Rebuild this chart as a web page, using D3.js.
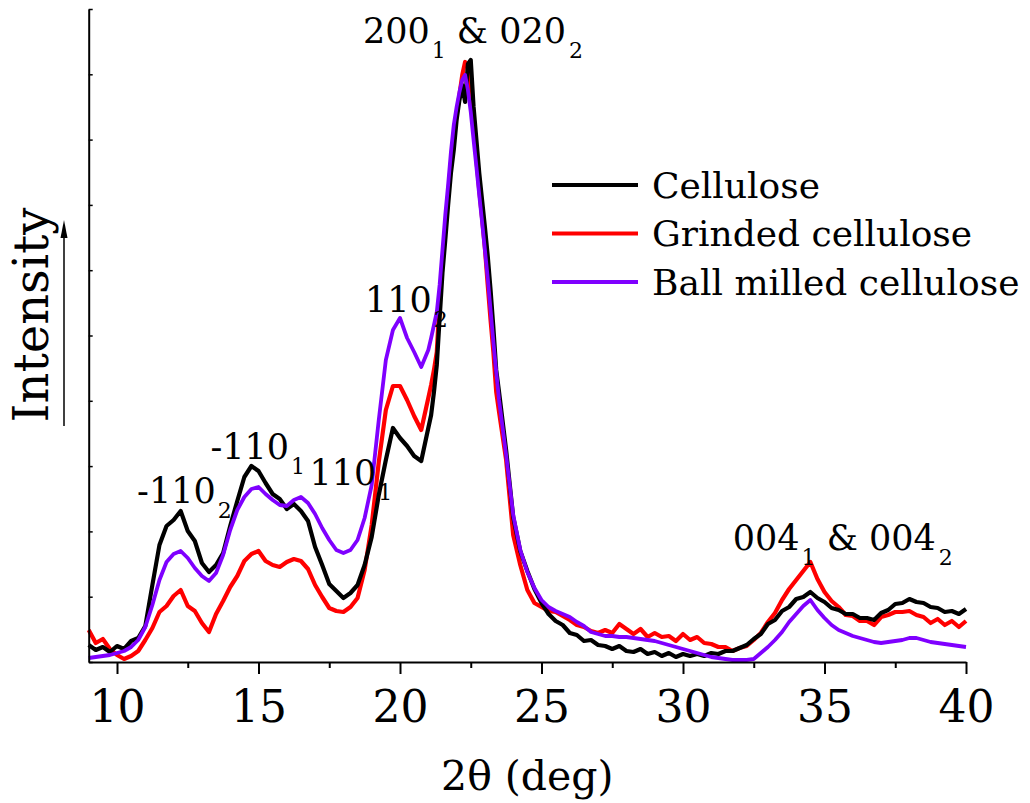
<!DOCTYPE html>
<html>
<head>
<meta charset="utf-8">
<script src="https://cdn.jsdelivr.net/npm/d3@7"></script>
<style>
  body { margin: 0; background: #fff; }
  text { font-family: "DejaVu Serif", serif; fill: #000; }
</style>
</head>
<body>
<div id="chart"></div>
<script>
// 2theta positions (deg), finer steps around the main 200/020 peak
const twoTheta = [
  9, 9.25, 9.5, 9.75, 10, 10.25, 10.5, 10.75, 11, 11.25, 11.5, 11.75,
  12, 12.25, 12.5, 12.75, 13, 13.25, 13.5, 13.75, 14, 14.25, 14.5, 14.75,
  15, 15.25, 15.5, 15.75, 16, 16.25, 16.5, 16.75, 17, 17.25, 17.5, 17.75,
  18, 18.25, 18.5, 18.75, 19, 19.25, 19.5, 19.75, 20, 20.25, 20.5, 20.75,
  21, 21.1, 21.2, 21.3, 21.4, 21.5, 21.6, 21.7, 21.8, 21.9,
  22, 22.1, 22.2, 22.3, 22.4, 22.5, 22.6, 22.7, 22.8, 22.9,
  23, 23.1, 23.2, 23.3, 23.4, 23.5,
  23.75, 24, 24.25, 24.5, 24.75, 25, 25.25, 25.5, 25.75, 26, 26.25, 26.5, 26.75,
  27, 27.25, 27.5, 27.75, 28, 28.25, 28.5, 28.75, 29, 29.25, 29.5, 29.75,
  30, 30.25, 30.5, 30.75, 31, 31.25, 31.5, 31.75, 32, 32.25, 32.5, 32.75,
  33, 33.25, 33.5, 33.75, 34, 34.25, 34.5, 34.75, 35, 35.25, 35.5, 35.75,
  36, 36.25, 36.5, 36.75, 37, 37.25, 37.5, 37.75, 38, 38.25, 38.5, 38.75,
  39, 39.25, 39.5, 39.75, 40
];

// intensities (a.u.)
const cellulose = [
  17, 12, 15, 10, 16, 13, 21, 24, 36, 77, 117, 136,
  142, 151, 131, 121, 99, 90, 97, 109, 136, 161, 185, 196,
  191, 179, 168, 163, 153, 158, 151, 141, 115, 97, 78, 71,
  64, 69, 77, 97, 125, 167, 202, 234, 224, 216, 206, 201,
  234, 247, 270, 297, 344, 389, 422, 457, 489, 512,
  542, 562, 577, 560, 598, 602, 555, 522, 489, 462,
  435, 406, 372, 334, 292, 270,
  212, 145, 111, 91, 73, 59, 48, 41, 37, 29, 27, 21, 22,
  17, 16, 13, 16, 11, 10, 13, 8, 10, 6, 9, 5,
  8, 6, 8, 6, 9, 8, 11, 11, 14, 17, 23, 28,
  38, 42, 51, 55, 63, 65, 70, 64, 60, 54, 52, 48,
  48, 44, 44, 42, 49, 52, 58, 59, 63, 60, 59, 55,
  54, 50, 51, 48, 53
];

const grinded = [
  32, 19, 23, 13, 7, 3, 6, 11, 22, 34, 50, 56,
  66, 72, 56, 51, 39, 30, 48, 61, 75, 86, 101, 108,
  111, 101, 97, 95, 100, 103, 101, 93, 77, 65, 54, 51,
  50, 55, 64, 92, 137, 200, 252, 276, 276, 262, 246, 232,
  264, 277, 292, 310, 362, 400, 432, 467, 499, 522,
  547, 567, 587, 600, 596, 567, 542, 502, 472, 444,
  414, 377, 342, 310, 270, 250,
  202, 127, 97, 72, 59, 55, 51, 50, 46, 42, 37, 35, 31,
  29, 32, 29, 38, 33, 28, 33, 25, 29, 25, 26, 21,
  28, 22, 25, 19, 18, 15, 15, 11, 14, 16, 22, 29,
  40, 49, 62, 73, 82, 91, 100, 83, 70, 61, 55, 47,
  46, 41, 41, 37, 45, 47, 50, 50, 51, 47, 45, 39,
  43, 37, 41, 35, 41
];

const ballMilled = [
  4, 5, 6, 7, 9, 11, 15, 22, 35, 57, 82, 100,
  108, 111, 104, 94, 86, 81, 89, 107, 132, 152, 165, 173,
  175, 168, 162, 157, 156, 162, 165, 159, 148, 134, 122, 112,
  109, 112, 122, 144, 177, 242, 302, 332, 344, 324, 310, 295,
  312, 324, 337, 350, 377, 412, 447, 477, 510, 537,
  555, 570, 582, 587, 572, 550, 522, 495, 467, 440,
  412, 384, 352, 320, 290, 262,
  207, 147, 112, 90, 74, 62, 55, 51, 48, 45, 40, 36, 30,
  28, 26, 26, 25, 25, 24, 23, 22, 21, 19, 17, 15,
  13, 11, 9, 7, 5, 4, 3, 2, 2, 2, 3, 9,
  15, 22, 30, 40, 48, 56, 62, 52, 44, 37, 32, 29,
  26, 24, 22, 20, 19, 20, 21, 22, 24, 24, 22, 20,
  19, 18, 17, 16, 15
];

const seriesNames = ["Cellulose", "Grinded cellulose", "Ball milled cellulose"];
const seriesColors = ["#000000", "#ff0000", "#7f00ff"];
const xMajorTicks = [10, 15, 20, 25, 30, 35, 40];
const xMinorTicks = [12.5, 17.5, 22.5, 27.5, 32.5, 37.5];

// reflection labels: main index, subscript, optional second part
const peakLabels = [
  { main: "-110", sub: "2", deg: 10.71, level: 159 },
  { main: "-110", sub: "1", deg: 13.30, level: 203 },
  { main: "110", sub: "1", deg: 16.80, level: 177 },
  { main: "110", sub: "2", deg: 18.76, level: 350 },
  { main: "200", sub: "1", main2: "\u00a0& 020", sub2: "2", deg: 18.69, level: 619 },
  { main: "004", sub: "1", main2: "\u00a0& 004", sub2: "2", deg: 31.76, level: 112 }
];

const W = 1030, H = 803;
const plot = { left: 88.7, right: 966, top: 9, bottom: 662 };

const svg = d3.select("#chart")
  .append("svg")
    .attr("width", W)
    .attr("height", H);

const x = d3.scaleLinear().domain([9, 40]).range([plot.left, plot.right]);
const y = d3.scaleLinear().domain([0, 653]).range([plot.bottom, plot.top]);

// series in draw order (red under black under purple)
const series = [
  { name: seriesNames[1], color: seriesColors[1], values: grinded, w: 4.2 },
  { name: seriesNames[0], color: seriesColors[0], values: cellulose, w: 4.2 },
  { name: seriesNames[2], color: seriesColors[2], values: ballMilled, w: 3.8 }
];

const line = d3.line()
  .x((d, i) => x(twoTheta[i]))
  .y(d => y(d));

svg.append("g")
  .selectAll("path")
  .data(series)
  .enter().append("path")
    .attr("d", d => line(d.values))
    .attr("fill", "none")
    .attr("stroke", d => d.color)
    .attr("stroke-width", d => d.w)
    .attr("stroke-linejoin", "round");

// x axis: major ticks with labels, minor ticks without
const xAxis = svg.append("g")
  .attr("transform", `translate(0,${plot.bottom})`)
  .call(d3.axisBottom(x)
    .tickValues(xMajorTicks)
    .tickSize(12)
    .tickSizeOuter(0)
    .tickPadding(17)
    .tickFormat(d3.format("d")));
xAxis.select(".domain").attr("stroke-width", 2);
xAxis.selectAll(".tick line").attr("stroke-width", 2);
xAxis.selectAll("text")
  .attr("font-size", 44)
  .attr("font-family", "DejaVu Serif, serif");

const xMinor = svg.append("g")
  .attr("transform", `translate(0,${plot.bottom})`)
  .call(d3.axisBottom(x).tickValues(xMinorTicks).tickSize(6).tickFormat(""));
xMinor.select(".domain").remove();
xMinor.selectAll(".tick line").attr("stroke-width", 2);

// y axis: unlabeled inward ticks
const yTicks = d3.range(0, 11).map(i => i * 65.3);
const yAxis = svg.append("g")
  .attr("transform", `translate(${plot.left},0)`)
  .call(d3.axisLeft(y).tickValues(yTicks).tickSize(-4).tickSizeOuter(0).tickFormat(""));
yAxis.select(".domain").attr("stroke-width", 2);
yAxis.selectAll(".tick line").attr("stroke-width", 1.5);

// axis titles
svg.append("text")
  .attr("x", (plot.left + plot.right) / 2)
  .attr("y", 790)
  .attr("text-anchor", "middle")
  .attr("font-size", 41)
  .text("2\u03b8 (deg)");

svg.append("text")
  .attr("transform", "translate(48,315) rotate(-90)")
  .attr("text-anchor", "middle")
  .attr("font-size", 48)
  .text("Intensity");

// arrow next to the y title
svg.append("line")
  .attr("x1", 64).attr("x2", 64)
  .attr("y1", 426).attr("y2", 232)
  .attr("stroke", "#000")
  .attr("stroke-width", 1.5);
svg.append("path")
  .attr("d", "M64,220 L60.5,238 L67.5,238 Z")
  .attr("fill", "#000");

// peak labels
peakLabels.forEach(p => {
  const t = svg.append("text")
    .attr("x", x(p.deg))
    .attr("y", y(p.level))
    .attr("font-size", 35);
  t.append("tspan").text(p.main);
  t.append("tspan").attr("font-size", 22).attr("dx", 2).attr("dy", 15).text(p.sub);
  if (p.main2) {
    t.append("tspan").attr("dy", -15).text(p.main2);
    t.append("tspan").attr("font-size", 22).attr("dx", 3).attr("dy", 15).text(p.sub2);
  }
});

// legend
const legend = svg.append("g").attr("transform", "translate(552,185)");
const items = legend.selectAll("g")
  .data(seriesNames)
  .enter().append("g")
    .attr("transform", (d, i) => `translate(0,${i * 48.5})`);
items.append("line")
  .attr("x1", 0).attr("x2", 86)
  .attr("stroke", (d, i) => seriesColors[i])
  .attr("stroke-width", 4);
items.append("text")
  .attr("x", 100)
  .attr("dy", "0.36em")
  .attr("font-size", 36)
  .text(d => d);
</script>
</body>
</html>
